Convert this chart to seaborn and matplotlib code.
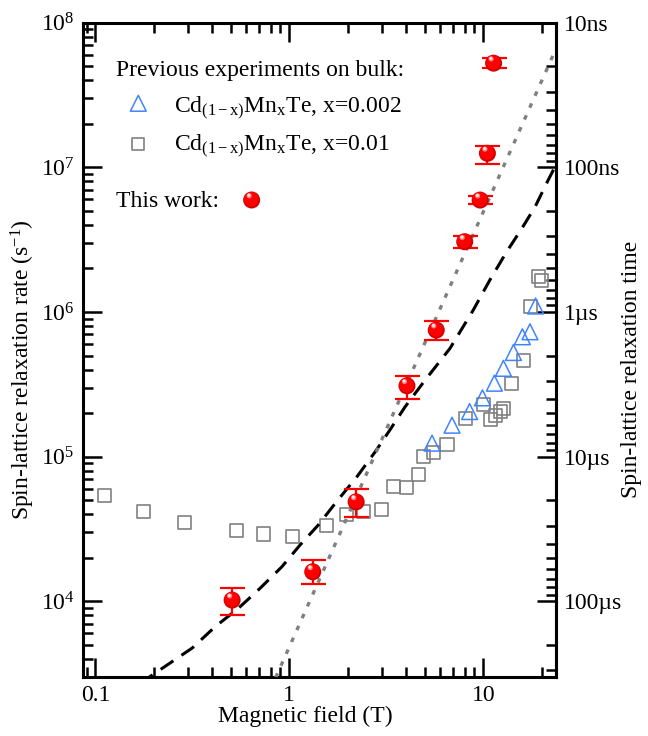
import numpy as np
import pandas as pd
import matplotlib
matplotlib.use("Agg")
import matplotlib.pyplot as plt
import matplotlib.ticker as mticker
from matplotlib.transforms import ScaledTranslation
import seaborn as sns

# Cd(1-x)MnxTe bulk, x=0.002 (open triangles)
field_x002 = [5.44, 6.90, 8.5, 9.9, 11.4, 12.7, 14.3, 15.9, 17.4, 18.6]
rate_x002 = [1.24e5, 1.65e5, 2.05e5, 2.55e5, 3.22e5, 4.08e5, 5.25e5, 6.74e5, 7.3e5, 1.10e6]

# Cd(1-x)MnxTe bulk, x=0.01 (open squares)
field_x01 = [0.112, 0.178, 0.289, 0.535, 0.732, 1.04, 1.55, 1.98, 2.41, 2.97, 3.45, 4.00,
             4.65, 4.92, 5.54, 6.50, 8.14, 10.0, 10.9, 11.6, 12.3, 12.7, 14.0, 16.1,
             17.5, 19.3, 20.0]
rate_x01 = [5.37e4, 4.21e4, 3.49e4, 3.11e4, 2.92e4, 2.80e4, 3.33e4, 3.99e4, 4.21e4, 4.32e4,
            6.19e4, 6.14e4, 7.58e4, 1.0e5, 1.07e5, 1.22e5, 1.84e5, 2.31e5, 1.81e5, 1.94e5,
            2.04e5, 2.16e5, 3.18e5, 4.6e5, 1.09e6, 1.75e6, 1.64e6]

# this work (red spheres with error bars)
field_ours = [0.507, 1.32, 2.21, 4.04, 5.72, 8.02, 9.63, 10.5, 11.3]
rate_ours = [1.02e4, 1.60e4, 4.87e4, 3.09e5, 7.5e5, 3.06e6, 5.94e6, 1.25e7, 5.25e7]
rate_ours_lo = [8.1e3, 1.31e4, 3.85e4, 2.50e5, 6.4e5, 2.75e6, 5.57e6, 1.06e7, 4.85e7]
rate_ours_hi = [1.23e4, 1.93e4, 5.95e4, 3.62e5, 8.65e5, 3.35e6, 6.33e6, 1.41e7, 5.69e7]

# model curves
dash_field = [0.17, 0.19, 0.243, 0.316, 0.414, 0.546, 0.706, 0.914, 1.135, 1.41, 1.75,
              2.23, 2.77, 3.30, 3.95, 5.01, 6.73, 8.87, 10.8, 13.2, 15.8, 18.5, 21.6, 23.7]
dash_rate = [2.7e3, 3.0e3, 3.75e3, 4.76e3, 6.67e3, 8.95e3, 1.23e4, 1.73e4, 2.45e4, 3.37e4,
             4.88e4, 7.26e4, 1.08e5, 1.53e5, 2.21e5, 3.38e5, 5.6e5, 1.03e6, 1.66e6, 2.61e6,
             3.78e6, 5.34e6, 8.16e6, 1.04e7]
dot_field = [0.85, 23.7]
dot_rate = [2.97e3, 6.6e7]

time_ticks = [1e-8, 1e-7, 1e-6, 1e-5, 1e-4]
time_labels = ['10ns', '100ns', '1\u00b5s', '10\u00b5s', '100\u00b5s']

FS = 17
RED = '#ff0000'
BLUE = '#3f84ff'
GRAY = '#808080'

sns.set_theme(style='ticks', rc={'axes.edgecolor': 'black', 'xtick.color': 'black',
                                 'ytick.color': 'black', 'text.color': 'black',
                                 'axes.labelcolor': 'black'})
plt.rcParams['font.family'] = ['Liberation Serif', 'DejaVu Serif']
plt.rcParams['mathtext.fontset'] = 'custom'
plt.rcParams['mathtext.rm'] = 'Liberation Serif'
plt.rcParams['mathtext.it'] = 'Liberation Serif:italic'


def inv(v):
    v = np.asarray(v, dtype=float)
    with np.errstate(divide='ignore'):
        return 1.0 / v


def draw_balls(ax, xs, ys, transform, zorder=5):
    # fake 3D shading: dark rim, red body, pinkish highlight up-left
    fig = ax.figure
    layers = [(150, '#d00000', 0.0, 0.0),
              (110, '#ff0000', -0.3, 0.5),
              (14, '#ff8080', -1.8, 3.0),
              (5, '#ffe6e6', -2.0, 3.4)]
    for s, c, dx, dy in layers:
        tr = transform + ScaledTranslation(dx / 72, dy / 72, fig.dpi_scale_trans)
        ax.scatter(xs, ys, s=s, color=c, edgecolors='none', transform=tr, zorder=zorder)


fig, ax = plt.subplots(figsize=(6.48, 7.36), dpi=100)
fig.subplots_adjust(left=0.1276, right=0.858, top=0.9692, bottom=0.0802)
ax.set_xscale('log')
ax.set_yscale('log')

df_sq = pd.DataFrame({'field': field_x01, 'rate': rate_x01})
df_tr = pd.DataFrame({'field': field_x002, 'rate': rate_x002})
sns.scatterplot(data=df_sq, x='field', y='rate', marker='s', s=88, facecolors='none',
                edgecolor=GRAY, linewidth=1.2, ax=ax, zorder=2)
sns.scatterplot(data=df_tr, x='field', y='rate', marker='^', s=130, facecolors='none',
                edgecolor=BLUE, linewidth=1.1, ax=ax, zorder=2)

ax.plot(dash_field, dash_rate, color='black', lw=2.2, ls=(0, (5, 3.2)), zorder=3)
ax.plot(dot_field, dot_rate, color=GRAY, lw=2.4, ls=(0, (1.4, 2.5)), zorder=3)

yo = np.array(rate_ours)
ax.errorbar(field_ours, rate_ours, yerr=[yo - np.array(rate_ours_lo), np.array(rate_ours_hi) - yo],
            fmt='none', ecolor=RED, elinewidth=1.6, capsize=9, capthick=1.6, zorder=4)
draw_balls(ax, field_ours, rate_ours, ax.transData)

ax.set_xlim(0.086, 23.7)
ax.set_ylim(3e3, 1e8)

ax.set_xticks([0.1, 1, 10], labels=['0.1', '1', '10'])
ax.xaxis.set_minor_locator(mticker.LogLocator(subs=np.arange(2, 10)))
ax.xaxis.set_minor_formatter(mticker.NullFormatter())
ax.yaxis.set_major_locator(mticker.LogLocator(numticks=20))
ax.yaxis.set_minor_locator(mticker.LogLocator(subs=np.arange(2, 10), numticks=20))
ax.yaxis.set_minor_formatter(mticker.NullFormatter())

ax.tick_params(which='major', direction='in', length=13.5, width=1.8, top=True,
               right=False, labelsize=FS, pad=6)
ax.tick_params(which='minor', direction='in', length=7, width=1.8, top=True, right=False)
for sp in ax.spines.values():
    sp.set_linewidth(2.2)

ax.set_xlabel('Magnetic field (T)', fontsize=FS)
ax.set_ylabel('Spin-lattice relaxation rate (s$^{\\mathrm{-1}}$)', fontsize=FS)
ax.xaxis.set_label_coords(0.47, -0.044)
ax.yaxis.set_label_coords(-0.096, 0.47)

secax = ax.secondary_yaxis('right', functions=(inv, inv))
secax.set_yticks(time_ticks, labels=time_labels)
secax.yaxis.set_minor_locator(mticker.LogLocator(subs=np.arange(2, 10), numticks=20))
secax.yaxis.set_minor_formatter(mticker.NullFormatter())
secax.tick_params(which='major', direction='in', length=13.5, width=1.8, labelsize=FS, pad=6)
secax.tick_params(which='minor', direction='in', length=7, width=1.8)
secax.spines['right'].set_linewidth(2.2)
secax.set_ylabel('Spin-lattice relaxation time', fontsize=FS)
secax.yaxis.set_label_coords(1.137, 0.47, transform=ax.transAxes)

# hand-made legend
ax.text(0.0704, 0.9185, 'Previous experiments on bulk:', transform=ax.transAxes,
        fontsize=FS, va='baseline')
ax.scatter([0.1175], [0.8768], transform=ax.transAxes, marker='^', s=130,
           facecolors='none', edgecolors=BLUE, linewidths=1.1)
ax.text(0.193, 0.8624, 'Cd$_{\\mathrm{(1-x)}}$Mn$_{\\mathrm{x}}$Te, x=0.002',
        transform=ax.transAxes, fontsize=FS, va='baseline')
ax.scatter([0.1175], [0.8146], transform=ax.transAxes, marker='s', s=70,
           facecolors='none', edgecolors=GRAY, linewidths=1.2)
ax.text(0.193, 0.8039, 'Cd$_{\\mathrm{(1-x)}}$Mn$_{\\mathrm{x}}$Te, x=0.01',
        transform=ax.transAxes, fontsize=FS, va='baseline')
ax.text(0.0704, 0.7188, 'This work:', transform=ax.transAxes, fontsize=FS, va='baseline')
draw_balls(ax, [0.357], [0.729], ax.transAxes)

fig.savefig('out.png', dpi=100)
